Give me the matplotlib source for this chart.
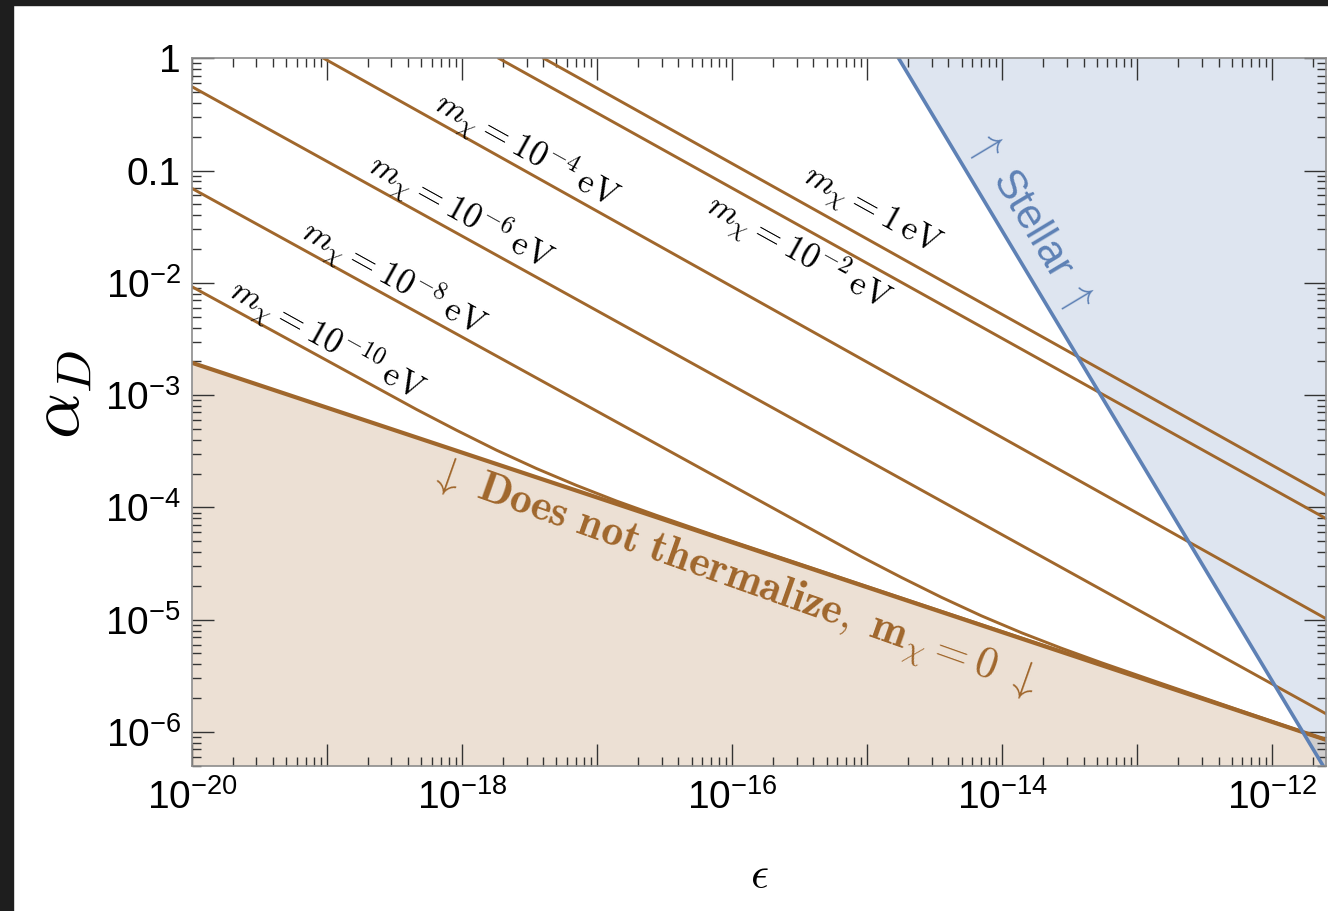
import numpy as np
import matplotlib
matplotlib.use("Agg")
from matplotlib import pyplot as plt
from matplotlib.patches import Rectangle
from matplotlib.ticker import LogLocator, FuncFormatter, NullFormatter

plt.rcParams['font.family'] = ['Liberation Sans', 'DejaVu Sans']
plt.rcParams['mathtext.fontset'] = 'custom'
plt.rcParams['mathtext.rm'] = 'Liberation Sans'
plt.rcParams['mathtext.it'] = 'Liberation Sans:italic'
plt.rcParams['mathtext.bf'] = 'Liberation Sans:bold'

# Curvas (epsilon, alpha_D)
eps_thermal = [1e-20, 2.5e-12]
alpha_thermal = [1.94e-3, 8.5e-7]

eps_stellar = [1.71e-15, 2.41e-12]
alpha_stellar = [1.0, 4.86e-7]

mass_labels = ["1", "10^{-2}", "10^{-4}", "10^{-6}", "10^{-8}", "10^{-10}"]
eps_m1 = [4.02e-18, 2.5e-12]
alpha_m1 = [1.0, 1.28e-4]
eps_m2 = [1.87e-18, 2.5e-12]
alpha_m2 = [1.0, 7.94e-5]
eps_m4 = [9.44e-20, 2.5e-12]
alpha_m4 = [1.0, 1.02e-5]
eps_m6 = [1e-20, 2.5e-12]
alpha_m6 = [0.558, 1.45e-6]
eps_m8 = [1e-20, 9.08e-16, 1.80e-15, 3.55e-15, 7.03e-15, 1.39e-14, 2.75e-14, 5.44e-14,
          1.51e-13, 2.5e-12]
alpha_m8 = [6.93e-2, 3.63e-5, 2.37e-5, 1.58e-5, 1.08e-5, 7.64e-6, 5.56e-6, 4.13e-6,
            2.70e-6, 8.5e-7]
eps_m10 = [1e-20, 4.59e-19, 9.08e-19, 1.80e-18, 3.55e-18, 7.03e-18, 1.39e-17, 2.75e-17,
           7.65e-17, 2.5e-12]
alpha_m10 = [9.23e-3, 7.46e-4, 4.87e-4, 3.23e-4, 2.22e-4, 1.57e-4, 1.14e-4, 8.49e-5,
             5.55e-5, 8.5e-7]

# Limites de los ejes
x_min, x_max = 1e-20, 2.5e-12
y_min, y_max = 5e-7, 1.0

brown = "#A0672C"
blue = "#5E81B5"

fig = plt.figure(figsize=(13.28, 9.11), dpi=100)
ax = fig.add_axes([0.1446, 0.1595, 0.8539, 0.7765])
ax.set_xscale("log")
ax.set_yscale("log")
ax.set_xlim(x_min, x_max)
ax.set_ylim(y_min, y_max)

# Regiones sombreadas
ax.fill_between(eps_thermal, [y_min, y_min], alpha_thermal, color=brown, alpha=0.2, lw=0)
ax.fill([eps_stellar[0], eps_stellar[1], x_max, x_max],
        [alpha_stellar[0], alpha_stellar[1], y_min, y_max], color=blue, alpha=0.2, lw=0)

# Lineas
for e, a in [(eps_m1, alpha_m1), (eps_m2, alpha_m2), (eps_m4, alpha_m4),
             (eps_m6, alpha_m6), (eps_m8, alpha_m8), (eps_m10, alpha_m10)]:
    ax.plot(e, a, color=brown, lw=2.1, solid_joinstyle="round")
ax.plot(eps_thermal, alpha_thermal, color=brown, lw=3.0)
ax.plot(eps_stellar, alpha_stellar, color=blue, lw=2.6)

# Etiquetas de las curvas
label_pos = {"1": (0.599, 0.781), "10^{-2}": (0.535, 0.725), "10^{-4}": (0.295, 0.869),
             "10^{-6}": (0.237, 0.782), "10^{-8}": (0.178, 0.689), "10^{-10}": (0.119, 0.601)}
for lab in mass_labels:
    fx, fy = label_pos[lab]
    ax.text(fx, fy, r"$m_\chi = %s\,\mathrm{eV}$" % lab, transform=ax.transAxes,
            rotation=-29, rotation_mode="anchor", ha="center", va="center",
            fontsize=25, math_fontfamily="cm", color="black")

ax.text(0.477, 0.262, r"$\downarrow\ \mathbf{Does\ not\ thermalize,\ m_\chi = 0}\ \downarrow$",
        transform=ax.transAxes, rotation=-19.5, rotation_mode="anchor", ha="center", va="center",
        fontsize=31.5, math_fontfamily="cm", color=brown)
ax.text(0.739, 0.771, r"$\uparrow$ Stellar $\uparrow$", transform=ax.transAxes,
        rotation=-59, rotation_mode="anchor", ha="center", va="center",
        fontsize=30, math_fontfamily="cm", color=blue)

# Ejes y marcas
ax.xaxis.set_major_locator(LogLocator(base=10, numticks=30))
ax.xaxis.set_minor_locator(LogLocator(base=10, subs=np.arange(2, 10), numticks=30))
ax.yaxis.set_major_locator(LogLocator(base=10, numticks=30))
ax.yaxis.set_minor_locator(LogLocator(base=10, subs=np.arange(2, 10), numticks=30))


def fmt_x(v, pos):
    e = int(round(np.log10(v)))
    if e % 2 == 0:
        return r"$10^{%d}$" % e
    return ""


def fmt_y(v, pos):
    e = int(round(np.log10(v)))
    if e == 0:
        return "1"
    if e == -1:
        return "0.1"
    return r"$10^{%d}$" % e


ax.xaxis.set_major_formatter(FuncFormatter(fmt_x))
ax.yaxis.set_major_formatter(FuncFormatter(fmt_y))
ax.xaxis.set_minor_formatter(NullFormatter())
ax.yaxis.set_minor_formatter(NullFormatter())

ax.tick_params(which="both", direction="in", top=True, right=True, color="#333333", width=1.0)
ax.tick_params(which="major", length=16, labelsize=28)
ax.tick_params(which="minor", length=6.5)
ax.tick_params(axis="x", which="major", pad=10)
ax.tick_params(axis="y", which="major", pad=8)
for sp in ax.spines.values():
    sp.set_color("#8c8c8c")
    sp.set_linewidth(1.2)

ax.set_xlabel(r"$\epsilon$", fontsize=32, math_fontfamily="cm", labelpad=28)
ax.set_ylabel(r"$\alpha_D$", fontsize=52, math_fontfamily="cm", va="center")
ax.yaxis.set_label_coords(-0.116, 0.525)

# Marco oscuro de la captura
fig.patches.append(Rectangle((0, 0), 13 / 1328, 1, transform=fig.transFigure,
                             color="#1e1e1e", zorder=10))
fig.patches.append(Rectangle((0, 1 - 5 / 911), 1, 5 / 911, transform=fig.transFigure,
                             color="#1e1e1e", zorder=10))

fig.savefig("out.png", dpi=100)
